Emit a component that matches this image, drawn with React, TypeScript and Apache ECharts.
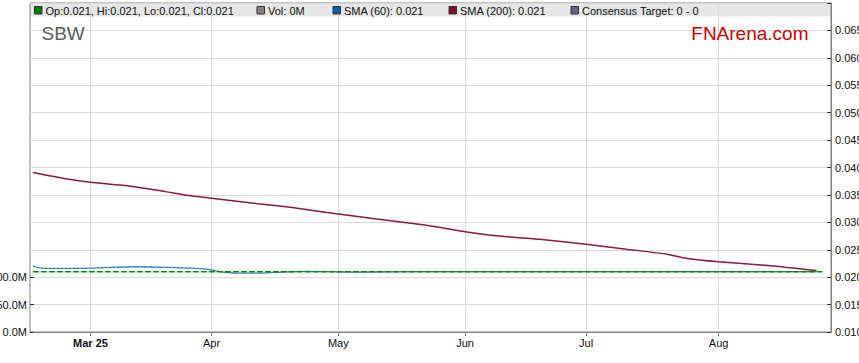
import React, { useEffect, useRef } from "react";
import * as echarts from "echarts";

// ---- data ----
const START_DATE = "2025-02-17";
const END_DATE = "2025-08-28";
const MONTHS = ["Jan", "Feb", "Mar", "Apr", "May", "Jun", "Jul", "Aug", "Sep", "Oct", "Nov", "Dec"];

// trading-day (weekday) categories
function buildWeekdays(start: string, end: string): string[] {
  const out: string[] = [];
  const d = new Date(start + "T00:00:00Z");
  const e = new Date(end + "T00:00:00Z");
  while (d.getTime() <= e.getTime()) {
    const wd = d.getUTCDay();
    if (wd !== 0 && wd !== 6) out.push(d.toISOString().slice(0, 10));
    d.setUTCDate(d.getUTCDate() + 1);
  }
  return out;
}
const DATES = buildWeekdays(START_DATE, END_DATE);

const PRICE_CLOSE: [string, number][] = [
  ["2025-02-17", 0.021],
  ["2025-08-27", 0.021],
];

const SMA60: [string, number][] = [
  ["2025-02-17", 0.022],
  ["2025-02-19", 0.0216],
  ["2025-03-03", 0.02166],
  ["2025-03-13", 0.0219],
  ["2025-03-20", 0.0218],
  ["2025-03-31", 0.02148],
  ["2025-04-02", 0.0211],
  ["2025-04-07", 0.02075],
  ["2025-04-14", 0.02075],
  ["2025-04-16", 0.02087],
  ["2025-04-23", 0.02105],
  ["2025-04-29", 0.021],
  ["2025-05-07", 0.02093],
  ["2025-05-20", 0.021],
  ["2025-08-26", 0.021],
];

const SMA200: [string, number][] = [
  ["2025-02-17", 0.0391],
  ["2025-02-25", 0.0379],
  ["2025-03-03", 0.0373],
  ["2025-03-11", 0.0367],
  ["2025-03-20", 0.0356],
  ["2025-03-26", 0.0349],
  ["2025-04-01", 0.0344],
  ["2025-04-11", 0.0334],
  ["2025-04-21", 0.0327],
  ["2025-04-29", 0.0318],
  ["2025-05-09", 0.0307],
  ["2025-05-22", 0.0295],
  ["2025-06-02", 0.0283],
  ["2025-06-09", 0.0276],
  ["2025-06-19", 0.0269],
  ["2025-07-01", 0.026],
  ["2025-07-10", 0.0251],
  ["2025-07-21", 0.0242],
  ["2025-07-24", 0.0235],
  ["2025-08-01", 0.0228],
  ["2025-08-14", 0.0221],
  ["2025-08-26", 0.0212],
];

const LEGEND_ITEMS = [
  { text: "Op:0.021, Hi:0.021, Lo:0.021, Cl:0.021", color: "#008000" },
  { text: "Vol: 0M", color: "#808080" },
  { text: "SMA (60): 0.021", color: "#0b5fa5" },
  { text: "SMA (200): 0.021", color: "#7a0f2e" },
  { text: "Consensus Target: 0 - 0", color: "#64648c" },
];
const LEGEND_X = [45.5, 268, 344, 460, 582];

const PRICE_TICKS = { min: 0.01, max: 0.07, interval: 0.005 };
const VOL_TICKS = { min: 0, max: 100e6, interval: 50e6 };

const FONT = "'Liberation Sans', Arial, sans-serif";

function isMonthStart(idx: number, val: string): boolean {
  return idx > 0 && DATES[idx - 1].slice(5, 7) !== val.slice(5, 7);
}

export default function App() {
  const ref = useRef<HTMLDivElement>(null);
  useEffect(() => {
    if (!ref.current) return;
    const chart = echarts.init(ref.current, undefined, { renderer: "svg" });
    const firstMonthCat = DATES.find((d, i) => isMonthStart(i, d));

    const graphic: any[] = [
      {
        type: "rect",
        z: -1,
        shape: { x: 30, y: 3, width: 801, height: 13.5 },
        style: { fill: "#e6e6e6" },
        silent: true,
      },
    ];
    LEGEND_ITEMS.forEach((it, i) => {
      graphic.push({
        type: "rect",
        z: 10,
        shape: { x: LEGEND_X[i] - 11, y: 6.5, width: 7.5, height: 7.5 },
        style: { fill: it.color, stroke: "#333", lineWidth: 1 },
        silent: true,
      });
      graphic.push({
        type: "text",
        z: 10,
        x: LEGEND_X[i],
        y: 10.5,
        style: {
          text: it.text,
          fill: "#111",
          font: `11px ${FONT}`,
          verticalAlign: "middle",
          textAlign: "left",
        },
        silent: true,
      });
    });
    graphic.push({
      type: "text",
      z: 10,
      x: 41.5,
      y: 33,
      style: { text: "SBW", fill: "#5c5c5c", font: `19px ${FONT}`, verticalAlign: "middle", textAlign: "left" },
      silent: true,
    });
    graphic.push({
      type: "text",
      z: 10,
      x: 808.5,
      y: 33,
      style: { text: "FNArena.com", fill: "#cc0000", font: `19px ${FONT}`, verticalAlign: "middle", textAlign: "right" },
      silent: true,
    });

    const option: any = {
      animation: false,
      textStyle: { fontFamily: FONT },
      grid: [
        {
          left: 30,
          right: 28,
          top: 3,
          bottom: 31,
          show: true,
          borderColor: "#808080",
          borderWidth: 1,
          containLabel: false,
          outerBoundsMode: "none",
        },
        { left: 30, right: 28, top: 277.17, bottom: 31, containLabel: false, outerBoundsMode: "none" },
      ],
      xAxis: [
        {
          type: "category",
          gridIndex: 0,
          data: DATES,
          boundaryGap: true,
          axisLine: { show: true, lineStyle: { color: "#808080" } },
          axisTick: {
            show: true,
            alignWithLabel: true,
            interval: isMonthStart,
            length: 4,
            lineStyle: { color: "#808080" },
          },
          axisLabel: {
            interval: isMonthStart,
            fontSize: 11,
            color: "#111",
            margin: 5,
            formatter: (val: string) => {
              const m = MONTHS[parseInt(val.slice(5, 7), 10) - 1];
              if (val === firstMonthCat) return `{b|${m} ${val.slice(2, 4)}}`;
              return m;
            },
            rich: { b: { fontWeight: "bold", fontSize: 11, color: "#111", fontFamily: FONT } },
          },
          splitLine: {
            show: true,
            interval: isMonthStart,
            alignWithLabel: true,
            lineStyle: { color: "#d9d9d9", width: 1 },
          },
        },
        {
          type: "category",
          gridIndex: 1,
          data: DATES,
          show: false,
        },
      ],
      yAxis: [
        {
          type: "value",
          gridIndex: 0,
          position: "right",
          min: PRICE_TICKS.min,
          max: PRICE_TICKS.max,
          interval: PRICE_TICKS.interval,
          axisLine: { show: true, lineStyle: { color: "#808080" } },
          axisTick: { show: true, inside: true, length: 4, lineStyle: { color: "#333" } },
          axisLabel: {
            fontSize: 11,
            color: "#111",
            margin: 4,
            formatter: (v: number) => (v > 0.0695 ? "" : v.toFixed(3)),
          },
          splitLine: { show: true, lineStyle: { color: "#d9d9d9" } },
        },
        {
          type: "value",
          gridIndex: 1,
          position: "left",
          min: VOL_TICKS.min,
          max: VOL_TICKS.max,
          interval: VOL_TICKS.interval,
          axisLine: { show: false },
          axisTick: { show: true, inside: true, length: 4, lineStyle: { color: "#333" } },
          axisLabel: {
            fontSize: 11,
            color: "#111",
            margin: 3,
            formatter: (v: number) => (v / 1e6).toFixed(1) + "M",
          },
          splitLine: { show: false },
        },
      ],
      graphic,
      series: [
        {
          name: "SMA (200)",
          type: "line",
          xAxisIndex: 0,
          yAxisIndex: 0,
          data: SMA200,
          showSymbol: false,
          symbol: "none",
          smooth: 0.2,
          z: 2,
          lineStyle: { color: "#8b1a40", width: 1.5 },
        },
        {
          name: "SMA (60)",
          type: "line",
          xAxisIndex: 0,
          yAxisIndex: 0,
          data: SMA60,
          showSymbol: false,
          symbol: "none",
          smooth: 0.3,
          z: 3,
          lineStyle: { color: "#3a82bf", width: 1.3 },
        },
        {
          name: "Close",
          type: "line",
          xAxisIndex: 0,
          yAxisIndex: 0,
          data: PRICE_CLOSE,
          showSymbol: false,
          symbol: "none",
          z: 5,
          lineStyle: { color: "#008a00", width: 1.5, type: [6, 2] },
        },
      ],
    };
    chart.setOption(option);
    return () => chart.dispose();
  }, []);
  return (
    <div
      ref={ref}
      style={{ position: "absolute", left: 0, top: 0, width: 859, height: 363 }}
    />
  );
}
